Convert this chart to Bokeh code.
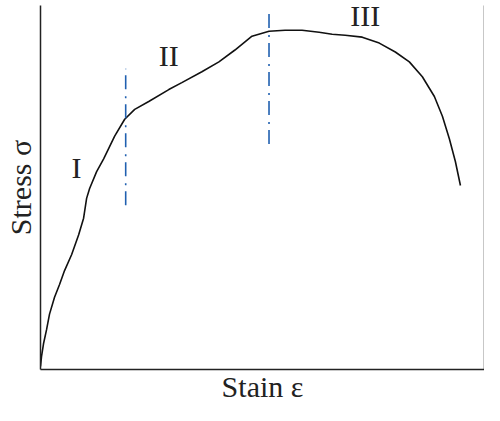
from bokeh.plotting import figure
from bokeh.models import LinearAxis, Range1d, FixedTicker
from bokeh.core.properties import value
from bokeh.embed import file_html
from bokeh.resources import INLINE

# stress-strain curve (arbitrary units)
strain = [0, 1, 3, 6, 9, 14, 19, 24, 31, 38, 43, 46, 49, 56, 63, 74, 84, 94, 108,
          128, 141, 161, 178, 194, 211, 228, 244, 261, 278, 291, 304, 321, 338,
          354, 368, 381, 393, 401, 408, 414, 419]
stress = [3, 13, 26, 40, 56, 73, 86, 100, 116, 136, 153, 173, 183, 200, 213, 236,
          253, 263, 271, 283, 290, 301, 311, 323, 337, 342, 343, 343, 341, 339,
          338, 336, 330, 321, 311, 296, 276, 256, 233, 210, 186]

# stage boundaries
boundary1_x = [85, 85]
boundary1_y = [166, 304]
boundary2_x = [228, 228]
boundary2_y = [228, 363]

# stage labels
stage_labels = ["I", "II", "III"]
stage_x = [36, 128, 324]
stage_y = [204, 317, 358]

FONT = "Liberation Serif"

p = figure(width=484, height=405, x_range=Range1d(0, 443), y_range=Range1d(0, 368),
           output_backend="svg", toolbar_location=None,
           min_border_left=39, min_border_right=0, min_border_top=5, min_border_bottom=0,
           x_axis_label="Stain ε", y_axis_label="Stress σ")
p.xgrid.visible = False
p.ygrid.visible = False
p.outline_line_color = None

right_axis = LinearAxis()
p.add_layout(right_axis, "right")

for ax in p.axis:
    ax.ticker = FixedTicker(ticks=[])
    ax.major_tick_out = 0
    ax.major_tick_in = 0
    ax.minor_tick_out = 0
    ax.minor_tick_in = 0
    ax.major_label_standoff = 0
    ax.major_label_text_font_size = "0px"
    ax.axis_line_width = 1.5
    ax.axis_line_color = "#222222"
    ax.axis_label_text_font = FONT
    ax.axis_label_text_font_size = "30px"
    ax.axis_label_text_font_style = "normal"
    ax.axis_label_text_color = "#222222"

p.xaxis[0].axis_label_standoff = 0
p.xaxis[0].axis_label_text_line_height = 0.8
p.yaxis[0].axis_label_standoff = 4
p.yaxis[0].axis_label_text_line_height = 0.8

p.line(strain, stress, line_color="#111111", line_width=1.6)
p.line(boundary1_x, boundary1_y, line_color="#2060b0", line_width=1.6, line_dash="14 6 2 7")
p.line(boundary2_x, boundary2_y, line_color="#2060b0", line_width=1.6, line_dash="14 6 2 7")

p.text(x=stage_x, y=stage_y, text=stage_labels, text_font=value(FONT),
       text_font_size="30px", text_align="center", text_baseline="alphabetic",
       text_color="#222222")

open("out.html", "w").write(file_html(p, INLINE))
